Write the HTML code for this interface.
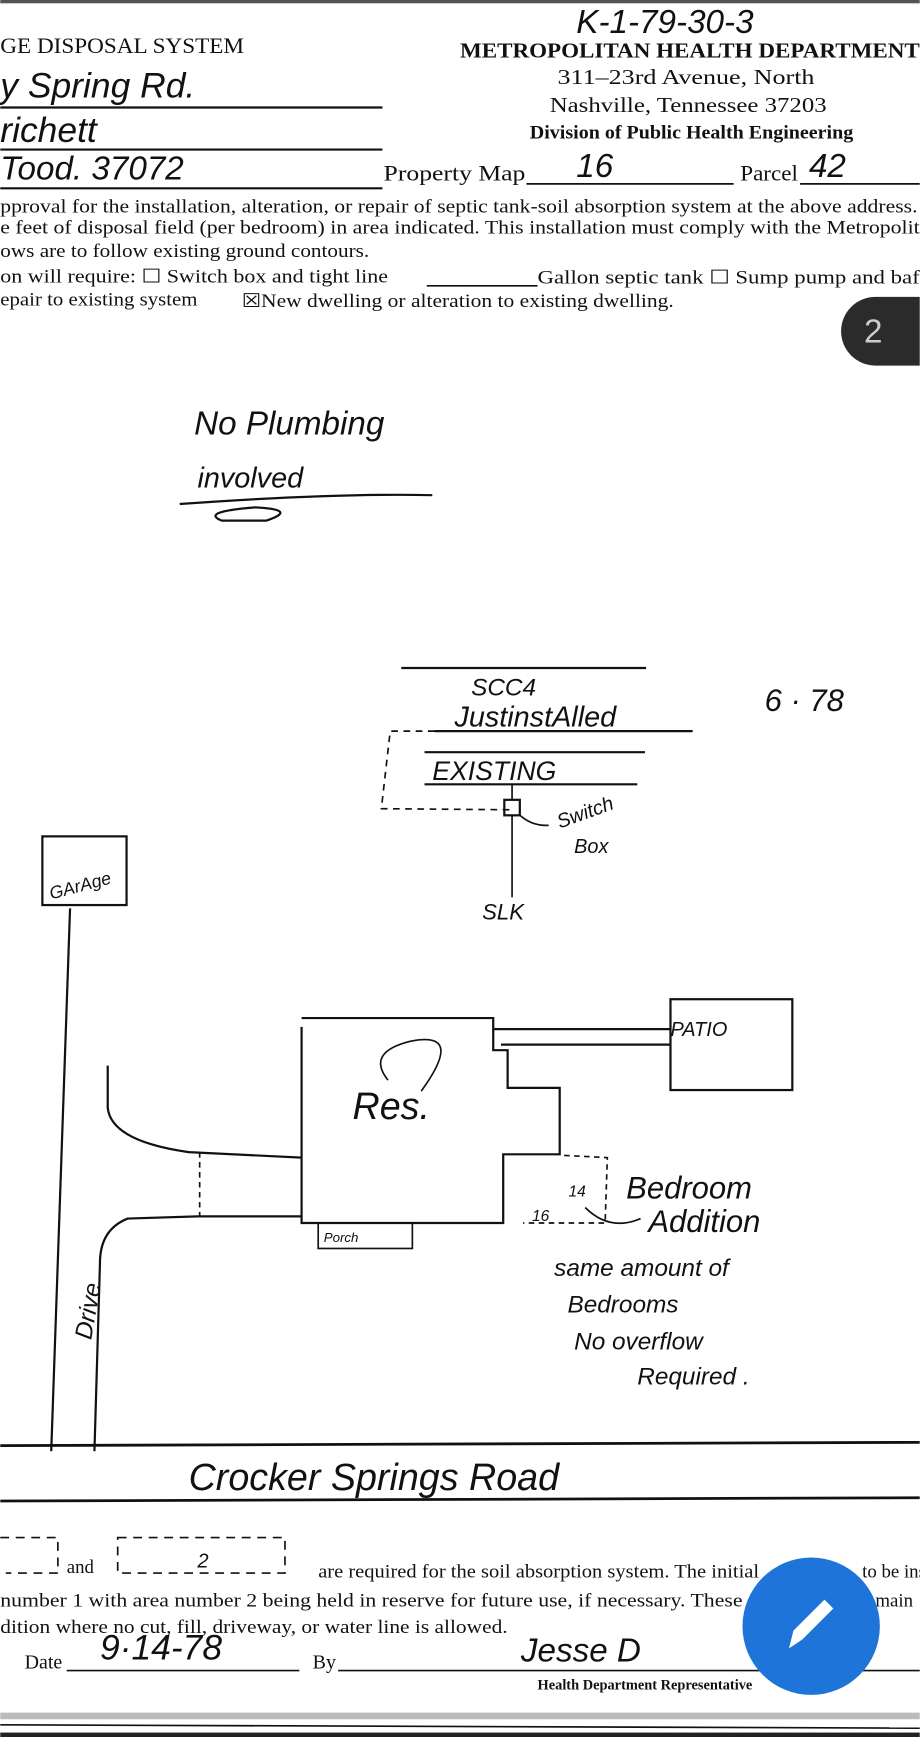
<!DOCTYPE html>
<html><head><meta charset="utf-8"><style>
html,body{margin:0;padding:0;background:#fff;}
svg{display:block;}
.t{font-family:"Liberation Serif",serif;fill:#111;}
.h{font-family:"Liberation Sans",sans-serif;font-style:italic;fill:#111;}
</style></head><body>
<svg width="920" height="1737" viewBox="0 0 830 1568" xmlns="http://www.w3.org/2000/svg">
<rect width="830" height="1568" fill="#fff"/>
<rect x="0" y="0" width="830" height="3" fill="#555"/>
<!-- header -->
<text class="t" x="0" y="48" font-size="20" textLength="220" lengthAdjust="spacingAndGlyphs">GE DISPOSAL SYSTEM</text>
<text class="t" x="415" y="52" font-size="19" font-weight="bold" textLength="415" lengthAdjust="spacingAndGlyphs">METROPOLITAN HEALTH DEPARTMENT</text>
<text class="t" x="503" y="76" font-size="19" textLength="232" lengthAdjust="spacingAndGlyphs">311–23rd Avenue, North</text>
<text class="t" x="496" y="101" font-size="19" textLength="250" lengthAdjust="spacingAndGlyphs">Nashville, Tennessee  37203</text>
<text class="t" x="478" y="125" font-size="17" font-weight="bold" textLength="292" lengthAdjust="spacingAndGlyphs">Division of Public Health Engineering</text>
<text class="h" x="520" y="30" font-size="30">K-1-79-30-3</text>
<text class="h" x="0" y="88" font-size="32">y Spring  Rd.</text>
<line x1="0" y1="97" x2="345" y2="97" stroke="#111" stroke-width="2"/>
<text class="h" x="0" y="128" font-size="32">richett</text>
<line x1="0" y1="135" x2="345" y2="135" stroke="#111" stroke-width="2"/>
<text class="h" x="0" y="162" font-size="30">Tood.   37072</text>
<line x1="0" y1="170" x2="345" y2="170" stroke="#111" stroke-width="2"/>
<text class="t" x="346" y="163" font-size="20" textLength="128" lengthAdjust="spacingAndGlyphs">Property Map</text>
<line x1="475" y1="166" x2="662" y2="166" stroke="#111" stroke-width="1.5"/>
<text class="h" x="520" y="160" font-size="30">16</text>
<text class="t" x="668" y="163" font-size="20" textLength="52" lengthAdjust="spacingAndGlyphs">Parcel</text>
<line x1="722" y1="166" x2="830" y2="166" stroke="#111" stroke-width="1.5"/>
<text class="h" x="730" y="160" font-size="30">42</text>
<text class="t" x="0" y="192" font-size="17" textLength="828" lengthAdjust="spacingAndGlyphs">pproval for the installation, alteration, or repair of septic tank-soil absorption system at the above address.</text>
<text class="t" x="0" y="211" font-size="17" textLength="830" lengthAdjust="spacingAndGlyphs">e feet of disposal field (per bedroom) in area indicated.  This installation must comply with the Metropolit</text>
<text class="t" x="0" y="232" font-size="17" textLength="333" lengthAdjust="spacingAndGlyphs">ows are to follow existing ground contours.</text>
<text class="t" x="0" y="255" font-size="17" textLength="350" lengthAdjust="spacingAndGlyphs">on will require:  ☐ Switch box and tight line</text>
<line x1="385" y1="258" x2="485" y2="258" stroke="#111" stroke-width="1.5"/>
<text class="t" x="485" y="256" font-size="17" textLength="345" lengthAdjust="spacingAndGlyphs">Gallon septic tank   ☐ Sump pump and baf</text>
<text class="t" x="0" y="276" font-size="17" textLength="178" lengthAdjust="spacingAndGlyphs">epair to existing system</text>
<text class="t" x="218" y="277" font-size="17" textLength="390" lengthAdjust="spacingAndGlyphs">☒New dwelling or alteration to existing dwelling.</text>
<path d="M790 268 H830 V330 H790 A31 31 0 0 1 790 268Z" fill="#2b2b2b"/>
<text x="788" y="309" font-family="Liberation Sans,sans-serif" font-size="30" fill="#ccc" text-anchor="middle">2</text>
<!-- no plumbing -->
<text class="h" x="175" y="392" font-size="30">No Plumbing</text>
<text class="h" x="178" y="440" font-size="26">involved</text>
<path d="M162 455 Q300 445 390 447 M200 470 Q180 462 230 458 Q270 460 240 470 Z" stroke="#111" fill="none" stroke-width="2"/>
<!-- septic lines -->
<line x1="362" y1="603" x2="583" y2="603" stroke="#111" stroke-width="2"/>
<text class="h" x="425" y="628" font-size="22">SCC4</text>
<text class="h" x="410" y="656" font-size="26">JustinstAlled</text>
<line x1="392" y1="660" x2="625" y2="660" stroke="#111" stroke-width="2"/>
<text class="h" x="690" y="642" font-size="28">6 · 78</text>
<line x1="383" y1="679" x2="582" y2="679" stroke="#111" stroke-width="2"/>
<text class="h" x="390" y="704" font-size="24">EXISTING</text>
<line x1="383" y1="708" x2="575" y2="708" stroke="#111" stroke-width="2"/>
<path d="M392 660 L352 660 L344 730 L462 731" stroke="#111" fill="none" stroke-width="1.5" stroke-dasharray="6 5"/>
<line x1="462" y1="708" x2="462" y2="722" stroke="#111" stroke-width="1.5"/>
<rect x="455" y="722" width="14" height="14" fill="none" stroke="#111" stroke-width="2"/>
<line x1="462" y1="736" x2="462" y2="810" stroke="#111" stroke-width="1.5"/>
<path d="M468 735 Q480 746 495 745" stroke="#111" fill="none" stroke-width="1.5"/>
<text class="h" x="505" y="748" font-size="18" transform="rotate(-20 505 748)">Switch</text>
<text class="h" x="518" y="770" font-size="18">Box</text>
<text class="h" x="435" y="830" font-size="20">SLK</text>
<!-- garage -->
<rect x="38" y="755" width="76" height="62" fill="none" stroke="#111" stroke-width="2"/>
<text class="h" x="46" y="812" font-size="16" transform="rotate(-15 46 812)">GArAge</text>
<!-- driveway -->
<line x1="63" y1="820" x2="46" y2="1310" stroke="#111" stroke-width="2"/>
<path d="M97 962 L97 1000 Q100 1030 170 1040 L272 1045" stroke="#111" fill="none" stroke-width="2"/>
<path d="M178 1098 L115 1100 Q90 1110 90 1140 L85 1310" stroke="#111" fill="none" stroke-width="2"/>
<path d="M180 1040 L180 1100" stroke="#111" fill="none" stroke-width="1.5" stroke-dasharray="5 4"/>
<line x1="178" y1="1098" x2="272" y2="1098" stroke="#111" stroke-width="2"/>
<text class="h" x="82" y="1210" font-size="22" transform="rotate(-80 82 1210)">Drive</text>
<!-- house -->
<path d="M272 927 L272 1104 L454 1104 L454 1042 L505 1042 L505 982 L458 982 L458 948 L445 948 L445 919 L272 919" stroke="#111" fill="none" stroke-width="2"/>
<line x1="445" y1="929" x2="605" y2="929" stroke="#111" stroke-width="2"/>
<line x1="452" y1="943" x2="605" y2="943" stroke="#111" stroke-width="2"/>
<rect x="605" y="902" width="110" height="82" fill="none" stroke="#111" stroke-width="2"/>
<text class="h" x="605" y="935" font-size="18">PATIO</text>
<text class="h" x="318" y="1010" font-size="34">Res.</text>
<path d="M350 975 Q330 950 370 940 Q420 930 380 985" stroke="#111" fill="none" stroke-width="1.5"/>
<rect x="287" y="1104" width="85" height="23" fill="none" stroke="#111" stroke-width="1.5"/>
<text class="h" x="292" y="1121" font-size="12">Porch</text>
<path d="M509 1043 L548 1045 L546 1104 L472 1104" stroke="#111" fill="none" stroke-width="1.5" stroke-dasharray="5 4"/>
<text class="h" x="513" y="1080" font-size="14">14</text>
<text class="h" x="480" y="1102" font-size="14">16</text>
<path d="M528 1090 Q550 1112 578 1100" stroke="#111" fill="none" stroke-width="1.5"/>
<text class="h" x="565" y="1082" font-size="28">Bedroom</text>
<text class="h" x="585" y="1112" font-size="28">Addition</text>
<text class="h" x="500" y="1152" font-size="22">same amount of</text>
<text class="h" x="512" y="1185" font-size="22">Bedrooms</text>
<text class="h" x="518" y="1218" font-size="22">No overflow</text>
<text class="h" x="575" y="1250" font-size="22">Required .</text>
<!-- road -->
<line x1="0" y1="1305" x2="830" y2="1302" stroke="#111" stroke-width="2.5"/>
<text class="h" x="170" y="1345" font-size="34">Crocker Springs Road</text>
<line x1="0" y1="1355" x2="830" y2="1352" stroke="#111" stroke-width="2.5"/>
<!-- bottom text -->
<path d="M0 1388 H52 V1420 H5" stroke="#111" fill="none" stroke-width="1.5" stroke-dasharray="8 6"/>
<text class="t" x="60" y="1420" font-size="17">and</text>
<path d="M106 1388 H257 V1420 H106 Z" stroke="#111" fill="none" stroke-width="1.5" stroke-dasharray="8 6"/>
<text class="h" x="178" y="1415" font-size="18">2</text>
<text class="t" x="287" y="1424" font-size="17" textLength="398" lengthAdjust="spacingAndGlyphs">are required for the soil absorption system.  The initial</text>
<text class="t" x="778" y="1424" font-size="17">to be ins</text>
<text class="t" x="0" y="1450" font-size="17" textLength="670" lengthAdjust="spacingAndGlyphs">number 1 with area number 2 being held in reserve for future use, if necessary.  These</text>
<text class="t" x="790" y="1450" font-size="17">main</text>
<text class="t" x="0" y="1474" font-size="17" textLength="458" lengthAdjust="spacingAndGlyphs">dition where no cut, fill, driveway, or water line is allowed.</text>
<text class="t" x="22" y="1506" font-size="18">Date</text>
<line x1="60" y1="1508" x2="270" y2="1508" stroke="#111" stroke-width="1.5"/>
<text class="h" x="90" y="1498" font-size="32">9·14-78</text>
<text class="t" x="282" y="1506" font-size="18">By</text>
<line x1="305" y1="1508" x2="830" y2="1508" stroke="#111" stroke-width="1.5"/>
<text class="h" x="470" y="1500" font-size="30">Jesse D</text>
<text class="t" x="485" y="1525" font-size="13" font-weight="bold">Health Department Representative</text>
<rect x="0" y="1546" width="830" height="6" fill="#bbb"/>
<line x1="0" y1="1557" x2="830" y2="1560" stroke="#111" stroke-width="1.5"/>
<rect x="0" y="1564" width="830" height="4" fill="#222"/>
<!-- fab -->
<circle cx="732" cy="1468" r="62" fill="#1e74d8"/>
<path d="M712 1488 L716 1472 L744 1444 L752 1452 L724 1480 Z" fill="#fff"/>
</svg>
</body></html>
